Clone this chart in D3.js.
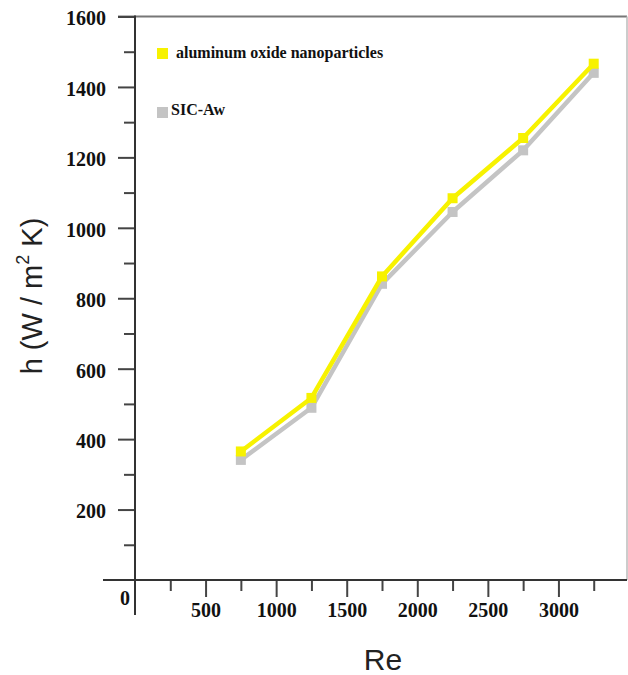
<!DOCTYPE html>
<html>
<head>
<meta charset="utf-8">
<script src="https://cdn.jsdelivr.net/npm/d3@7"></script>
<style>
  body { margin: 0; background: #fff; }
  .tick text { font-family: "Liberation Serif", serif; font-weight: bold; font-size: 20px; fill: #111; }
</style>
</head>
<body>
<svg width="628" height="675"></svg>
<script>
// data
var reynolds = [750, 1250, 1750, 2250, 2750, 3250];
var alumina = [365, 517, 862, 1084, 1255, 1466];
var sicAw = [341, 489, 841, 1045, 1220, 1440];
var seriesNames = ["aluminum oxide nanoparticles", "SIC-Aw"];
var xMajorTicks = [500, 1000, 1500, 2000, 2500, 3000];
var yMajorTicks = [200, 400, 600, 800, 1000, 1200, 1400, 1600];

var svg = d3.select("svg");
var pLeft = 135, pRight = 627, pTop = 16.5, pBottom = 580;

var x = d3.scaleLinear().domain([0, 3500]).range([pLeft, 629]);
var y = d3.scaleLinear().domain([0, 1600]).range([pBottom, pTop]);

// frame: top and right
svg.append("line").attr("x1", 118).attr("x2", pRight).attr("y1", pTop).attr("y2", pTop)
  .attr("stroke", "#777").attr("stroke-width", 2);
svg.append("line").attr("x1", pRight).attr("x2", pRight).attr("y1", pTop).attr("y2", pBottom)
  .attr("stroke", "#bbb").attr("stroke-width", 1.5);

// y axis - minor ticks
svg.append("g")
  .attr("transform", "translate(" + pLeft + ",0)")
  .call(d3.axisLeft(y).tickValues(d3.range(100, 1600, 200)).tickSize(11).tickFormat(""))
  .call(function(g){ g.select(".domain").remove(); })
  .selectAll("line").attr("stroke", "#444").attr("stroke-width", 2);

// y axis - major ticks with labels
var yAx = svg.append("g")
  .attr("transform", "translate(" + pLeft + ",0)")
  .call(d3.axisLeft(y).tickValues(yMajorTicks).tickSize(17).tickPadding(12).tickFormat(d3.format("d")));
yAx.select(".domain").remove();
yAx.selectAll("line").attr("stroke", "#444").attr("stroke-width", 2);
yAx.selectAll("text").attr("dy", "0.42em");

// x axis - minor ticks
svg.append("g")
  .attr("transform", "translate(0," + pBottom + ")")
  .call(d3.axisBottom(x).tickValues(d3.range(250, 3500, 500)).tickSize(11).tickFormat(""))
  .call(function(g){ g.select(".domain").remove(); })
  .selectAll("line").attr("stroke", "#444").attr("stroke-width", 2);

// x axis - major ticks with labels
var xAx = svg.append("g")
  .attr("transform", "translate(0," + pBottom + ")")
  .call(d3.axisBottom(x).tickValues(xMajorTicks).tickSize(17).tickPadding(6).tickFormat(d3.format("d")));
xAx.select(".domain").remove();
xAx.selectAll("line").attr("stroke", "#444").attr("stroke-width", 2);

// axis lines (cross at origin)
svg.append("line").attr("x1", pLeft).attr("x2", pLeft).attr("y1", pTop - 1).attr("y2", 615)
  .attr("stroke", "#333").attr("stroke-width", 2);
svg.append("line").attr("x1", 103).attr("x2", pRight).attr("y1", pBottom).attr("y2", pBottom)
  .attr("stroke", "#333").attr("stroke-width", 2);

// origin label
svg.append("text")
  .attr("x", 125).attr("y", 605)
  .attr("text-anchor", "middle")
  .style("font-family", "Liberation Serif, serif")
  .style("font-weight", "bold")
  .style("font-size", "20px")
  .style("fill", "#111")
  .text("0");

// axis titles
var yTitle = svg.append("text")
  .attr("transform", "translate(42,296) rotate(-90)")
  .attr("text-anchor", "middle")
  .style("font-family", "Liberation Sans, Arial, sans-serif")
  .style("font-size", "29px")
  .style("fill", "#222");
yTitle.append("tspan").text("h (W / m");
yTitle.append("tspan").attr("dy", "-0.7em").style("font-size", "18px").text("2");
yTitle.append("tspan").attr("dy", "0.45em").text(" K)");

svg.append("text")
  .attr("x", 383).attr("y", 670)
  .attr("text-anchor", "middle")
  .style("font-family", "Liberation Sans, Arial, sans-serif")
  .style("font-size", "30px")
  .style("fill", "#222")
  .text("Re");

// series
var series = [
  { name: seriesNames[1], values: sicAw, color: "#c4c4c4" },
  { name: seriesNames[0], values: alumina, color: "#f7f200" }
];

var line = d3.line()
  .x(function(d){ return x(d[0]); })
  .y(function(d){ return y(d[1]); });

series.forEach(function(s) {
  var pts = reynolds.map(function(r, i){ return [r, s.values[i]]; });
  svg.append("path")
    .datum(pts)
    .attr("fill", "none")
    .attr("stroke", s.color)
    .attr("stroke-width", 4.5)
    .attr("stroke-linejoin", "round")
    .attr("d", line);
  svg.selectAll(null)
    .data(pts)
    .enter().append("rect")
    .attr("x", function(d){ return x(d[0]) - 5; })
    .attr("y", function(d){ return y(d[1]) - 5; })
    .attr("width", 10)
    .attr("height", 10)
    .attr("fill", s.color);
});

// legend
var legend = [
  { name: seriesNames[0], color: "#f7f200", sy: 48, ty: 58, tx: 176 },
  { name: seriesNames[1], color: "#c4c4c4", sy: 107, ty: 115, tx: 171 }
];
legend.forEach(function(l) {
  svg.append("rect")
    .attr("x", 157).attr("y", l.sy)
    .attr("width", 11).attr("height", 11)
    .attr("fill", l.color);
  svg.append("text")
    .attr("x", l.tx).attr("y", l.ty)
    .style("font-family", "Liberation Serif, serif")
    .style("font-weight", "bold")
    .style("font-size", "16px")
    .style("fill", "#111")
    .text(l.name);
});
</script>
</body>
</html>
